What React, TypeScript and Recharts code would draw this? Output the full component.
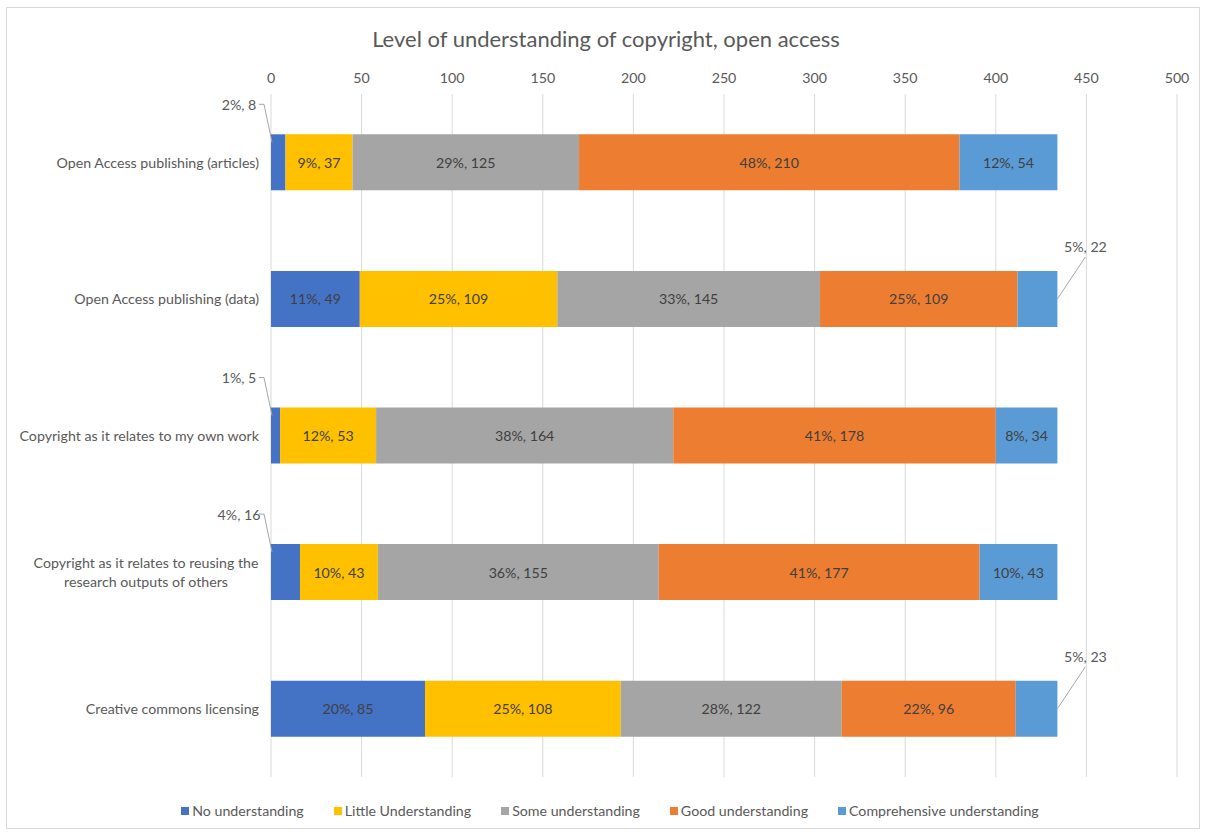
import { BarChart, Bar, XAxis, YAxis, CartesianGrid, LabelList, Text } from 'recharts';

const categories = [
  'Open Access publishing (articles)',
  'Open Access publishing (data)',
  'Copyright as it relates to my own work',
  'Copyright as it relates to reusing the research outputs of others',
  'Creative commons licensing',
];

const seriesNames = [
  'No understanding',
  'Little Understanding',
  'Some understanding',
  'Good understanding',
  'Comprehensive understanding',
];
const seriesColors = ['#4472C4', '#FFC000', '#A5A5A5', '#ED7D31', '#5B9BD5'];

// counts per category
const noUnderstanding = [8, 49, 5, 16, 85];
const littleUnderstanding = [37, 109, 53, 43, 108];
const someUnderstanding = [125, 145, 164, 155, 122];
const goodUnderstanding = [210, 109, 178, 177, 96];
const comprehensiveUnderstanding = [54, 22, 34, 43, 23];

// percentages as printed in the labels
const noPct = [2, 11, 1, 4, 20];
const littlePct = [9, 25, 12, 10, 25];
const somePct = [29, 33, 38, 36, 28];
const goodPct = [48, 25, 41, 41, 22];
const comprehensivePct = [12, 5, 8, 10, 5];

const xTicks = [0, 50, 100, 150, 200, 250, 300, 350, 400, 450, 500];

const counts = [noUnderstanding, littleUnderstanding, someUnderstanding, goodUnderstanding, comprehensiveUnderstanding];
const pcts = [noPct, littlePct, somePct, goodPct, comprehensivePct];

const data = categories.map((name, i) => {
  const row: Record<string, any> = { name };
  counts.forEach((arr, s) => {
    row[`s${s}`] = arr[i];
    row[`l${s}`] = `${pcts[s][i]}%, ${arr[i]}`;
  });
  return row;
});

const FONT = 'Lato, "Open Sans", sans-serif';
const TEXT = '#595959';
const FS = 14.2;

function makeLabel(seriesIdx: number) {
  return (props: any) => {
    const vb = props.viewBox ?? props;
    const { x, y, width, height } = vb;
    const value = props.value;
    if (width >= 45) {
      return (
        <text x={x + width / 2} y={y + height / 2} textAnchor="middle" dominantBaseline="central"
          fill="#404040" fontSize={FS} fontFamily={FONT}>
          {value}
        </text>
      );
    }
    if (seriesIdx === 0) {
      // small first segment: callout up and to the left
      const tx = x - 32;
      const ty = y - 30;
      return (
        <g>
          <polyline points={`${tx + 20},${ty} ${tx + 25},${ty} ${x + 1},${y + 8}`}
            fill="none" stroke="#a6a6a6" strokeWidth={1} />
          <text x={tx} y={ty} textAnchor="middle" dominantBaseline="central" fill={TEXT} fontSize={FS} fontFamily={FONT}>
            {value}
          </text>
        </g>
      );
    }
    const tx = x + width + 28;
    const ty = y - 24;
    return (
      <g>
        <line x1={tx} y1={ty + 10} x2={x + width} y2={y + height / 2}
          stroke="#a6a6a6" strokeWidth={1} />
        <text x={tx} y={ty} textAnchor="middle" dominantBaseline="central" fill={TEXT} fontSize={FS} fontFamily={FONT}>
          {value}
        </text>
      </g>
    );
  };
}

const CategoryTick = (props: any) => {
  const { x, y, payload } = props;
  const label: string = payload.value;
  if (label.length > 40) {
    return (
      <Text x={x - 113} y={y} width={240} textAnchor="middle" verticalAnchor="middle" lineHeight="1.35em"
        fontSize={FS} fill={TEXT} fontFamily={FONT}>
        {label}
      </Text>
    );
  }
  return (
    <text x={x} y={y} textAnchor="end" dominantBaseline="central" fontSize={FS} fill={TEXT} fontFamily={FONT}>
      {label}
    </text>
  );
};

export default function App() {
  return (
    <div style={{ position: 'absolute', left: 0, top: 0, width: 1206, height: 834, background: '#fff', fontFamily: FONT }}>
      <div style={{ position: 'absolute', left: 6, top: 7, width: 1194, height: 822, border: '1px solid #d9d9d9', boxSizing: 'border-box' }} />
      <div style={{ position: 'absolute', left: 0, top: 25, width: 1212, textAlign: 'center', fontSize: 22, color: TEXT }}>
        Level of understanding of copyright, open access
      </div>
      <div style={{ position: 'absolute', left: 0, top: 0 }}>
        <BarChart width={1206} height={834} data={data} layout="vertical"
          margin={{ top: 20, right: 29, bottom: 57, left: 0 }} barCategoryGap="29.5%">
          <CartesianGrid horizontal={false} stroke="#d9d9d9" />
          <XAxis type="number" orientation="top" domain={[0, 500]} ticks={xTicks} height={74}
            axisLine={false} tickLine={false} tickSize={0} tickMargin={11}
            tick={{ fill: TEXT, fontSize: FS, fontFamily: FONT }} />
          <YAxis type="category" dataKey="name" width={271} axisLine={false} tickLine={false}
            tickSize={0} tickMargin={12} tick={<CategoryTick />} interval={0} />
          {seriesNames.map((n, s) => (
            <Bar key={n} dataKey={`s${s}`} name={n} stackId="a" fill={seriesColors[s]} isAnimationActive={false}>
              <LabelList dataKey={`l${s}`} content={makeLabel(s)} />
            </Bar>
          ))}
        </BarChart>
      </div>
      <div style={{ position: 'absolute', left: 0, top: 802, width: 1220, display: 'flex', justifyContent: 'center', gap: 30, fontSize: FS, color: TEXT }}>
        {seriesNames.map((n, s) => (
          <div key={n} style={{ display: 'flex', alignItems: 'center' }}>
            <span style={{ display: 'inline-block', width: 8, height: 8, background: seriesColors[s], marginRight: 3 }} />
            {n}
          </div>
        ))}
      </div>
    </div>
  );
}
